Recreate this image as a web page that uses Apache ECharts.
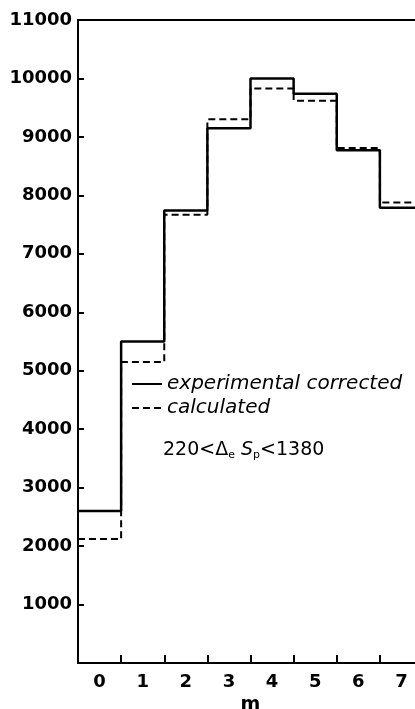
<!DOCTYPE html>
<html>
<head>
<meta charset="utf-8">
<script src="https://cdn.jsdelivr.net/npm/echarts@6/dist/echarts.min.js"></script>
<style>
  html, body { margin: 0; padding: 0; background: #fff; }
  #chart { width: 415px; height: 709px; }
</style>
</head>
<body>
<div id="chart"></div>
<script>
// bins of m, left edges 0..7, last edge 8
const binEdges = [0, 1, 2, 3, 4, 5, 6, 7, 8];
const mLabels = ["0", "1", "2", "3", "4", "5", "6", "7"];
// experimental corrected (solid)
const experimental = [2600, 5500, 7740, 9150, 10000, 9740, 8770, 7790];
// calculated (dashed)
const calculated = [2120, 5150, 7670, 9300, 9830, 9620, 8810, 7880];
const yTicks = [1000, 2000, 3000, 4000, 5000, 6000, 7000, 8000, 9000, 10000, 11000];

// 直方图: 每个区间左端点 + 最后的右端点
const toSteps = (vals) => {
  const pts = vals.map((v, i) => [binEdges[i], v]);
  pts.push([binEdges[binEdges.length - 1], vals[vals.length - 1]]);
  return pts;
};

const font = "DejaVu Sans";
const mycharts = echarts.init(document.getElementById("chart"));
const options = {
  animation: false,
  grid: {
    left: 78, top: 20, width: 345, height: 643,
    outerBoundsMode: "none", containLabel: false,
    show: true, borderColor: "#000", borderWidth: 2
  },
  xAxis: [
    {
      type: "value", min: 0, max: 8, interval: 1,
      axisLine: { show: true, lineStyle: { color: "#000", width: 2 } },
      axisTick: { show: true, inside: true, length: 8, lineStyle: { color: "#000", width: 2 } },
      axisLabel: { show: false },
      splitLine: { show: false }
    },
    {
      type: "category", data: mLabels, position: "bottom",
      boundaryGap: true,
      axisLine: { show: false }, axisTick: { show: false },
      axisLabel: { color: "#000", fontSize: 18, fontWeight: "bold", fontFamily: font, margin: 10 },
      name: "m", nameLocation: "middle", nameGap: 28,
      nameTextStyle: { color: "#000", fontSize: 19, fontWeight: "bold", fontFamily: font }
    }
  ],
  yAxis: {
    type: "value", min: 0, max: 11000, interval: 1000,
    axisLine: { show: true, lineStyle: { color: "#000", width: 2 } },
    axisTick: { show: true, inside: true, length: 6, lineStyle: { color: "#000", width: 2 } },
    axisLabel: {
      color: "#000", fontSize: 18, fontWeight: "bold", fontFamily: font, margin: 6,
      formatter: (v) => (yTicks.includes(v) ? String(v) : "")
    },
    splitLine: { show: false }
  },
  legend: {
    orient: "vertical", left: 126, top: 369,
    itemWidth: 30, itemHeight: 14, itemGap: 4,
    itemStyle: { opacity: 0 },
    textStyle: { color: "#000", fontSize: 20, fontStyle: "italic", fontFamily: font },
    data: ["experimental corrected", "calculated"]
  },
  graphic: [
    {
      type: "text", left: 163, top: 441,
      style: {
        text: "220<Δ{sub|e} {it|S}{sub|p}<1380",
        fill: "#000", fontSize: 19, fontFamily: font,
        rich: {
          sub: { fontSize: 11, fontFamily: font, verticalAlign: "bottom", padding: [10, 0, 0, 0] },
          it: { fontSize: 19, fontStyle: "italic", fontFamily: font }
        }
      }
    }
  ],
  series: [
    {
      name: "experimental corrected", type: "line", step: "end",
      xAxisIndex: 0, symbol: "none",
      lineStyle: { color: "#000", width: 2.5 },
      itemStyle: { color: "#000" },
      data: toSteps(experimental)
    },
    {
      name: "calculated", type: "line", step: "end",
      xAxisIndex: 0, symbol: "none",
      lineStyle: { color: "#000", width: 2, type: [7, 4] },
      itemStyle: { color: "#000" },
      data: toSteps(calculated)
    }
  ]
};
mycharts.setOption(options);
</script>
</body>
</html>
